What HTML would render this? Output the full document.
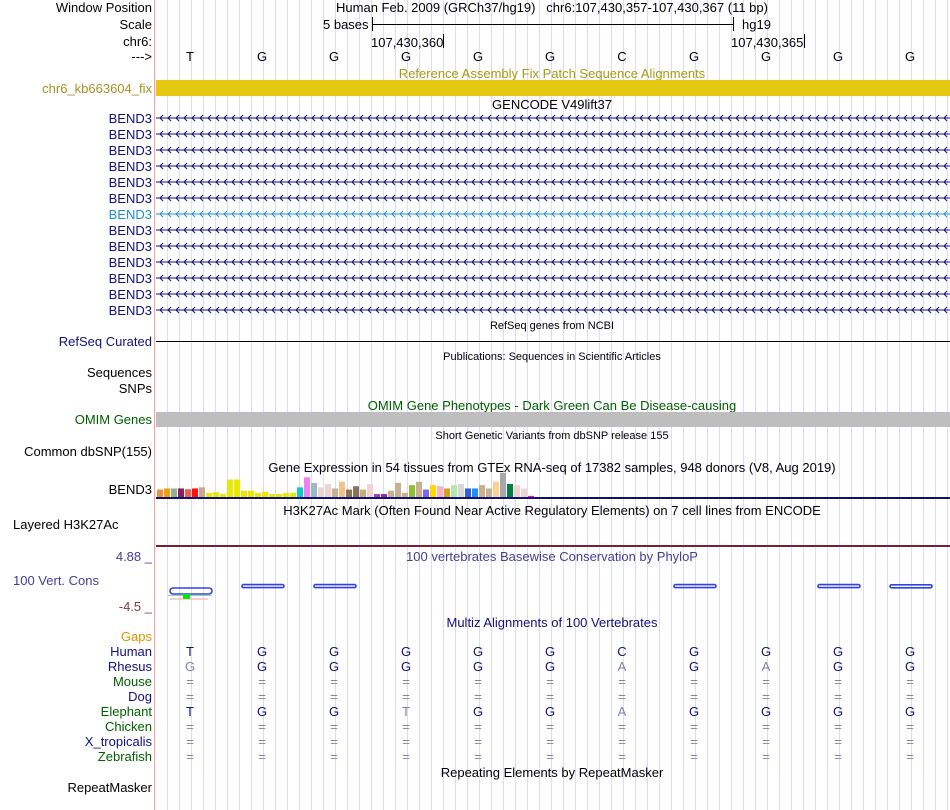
<!DOCTYPE html>
<html><head><meta charset="utf-8">
<style>
body{margin:0;background:#fff;}
#root{position:relative;width:950px;height:810px;overflow:hidden;font-family:"Liberation Sans",sans-serif;font-size:13px;color:#000;background:#fff;}
.lbl{position:absolute;right:798px;white-space:nowrap;line-height:15px;}
.t{position:absolute;white-space:nowrap;line-height:15px;}
.c{position:absolute;transform:translateX(-50%);white-space:nowrap;line-height:15px;}
.sm{font-size:11px;}
#border{position:absolute;left:154px;top:0;width:1px;height:810px;background:#f4a0a0;}
</style></head><body>
<div id="root">
<svg id="grid" style="position:absolute;left:0;top:0" width="950" height="810"></svg>
<div id="border"></div>

<div class="lbl" style="top:0">Window Position</div>
<div class="lbl" style="top:17px">Scale</div>
<div class="lbl" style="top:34px">chr6:</div>
<div class="lbl" style="top:49px">---&gt;</div>
<div class="c" style="left:552px;top:0">Human Feb. 2009 (GRCh37/hg19)&nbsp;&nbsp; chr6:107,430,357-107,430,367 (11 bp)</div>
<div class="t" style="left:323px;top:17px">5 bases</div>
<div style="position:absolute;left:372px;top:24px;width:361px;height:1px;background:#000"></div>
<div style="position:absolute;left:372px;top:17px;width:1px;height:14px;background:#000"></div>
<div style="position:absolute;left:733px;top:17px;width:1px;height:14px;background:#000"></div>
<div class="t" style="left:742px;top:17px">hg19</div>
<div class="t" style="left:371px;top:35px">107,430,360</div>
<div style="position:absolute;left:443px;top:34px;width:1px;height:14px;background:#000"></div>
<div class="t" style="left:731px;top:35px">107,430,365</div>
<div style="position:absolute;left:804px;top:34px;width:1px;height:14px;background:#000"></div>

<div class="c" style="left:552px;top:66px;color:#a89a10">Reference Assembly Fix Patch Sequence Alignments</div>
<div class="lbl" style="top:81px;color:#a89020">chr6_kb663604_fix</div>
<div style="position:absolute;left:156px;top:80px;width:794px;height:16px;background:#e6c812"></div>

<div class="c" style="left:552px;top:97px">GENCODE V49lift37</div>

<div class="c sm" style="left:552px;top:319px">RefSeq genes from NCBI</div>
<div class="lbl" style="top:334px;color:#101080">RefSeq Curated</div>
<div style="position:absolute;left:156px;top:341px;width:794px;height:1px;background:#000"></div>
<div class="c sm" style="left:552px;top:350px">Publications: Sequences in Scientific Articles</div>
<div class="lbl" style="top:365px">Sequences</div>
<div class="lbl" style="top:381px">SNPs</div>
<div class="c" style="left:552px;top:398px;color:#006000">OMIM Gene Phenotypes - Dark Green Can Be Disease-causing</div>
<div class="lbl" style="top:412px;color:#006000">OMIM Genes</div>
<div style="position:absolute;left:156px;top:412px;width:794px;height:15px;background:#bebebe"></div>
<div class="c sm" style="left:552px;top:429px">Short Genetic Variants from dbSNP release 155</div>
<div class="lbl" style="top:444px">Common dbSNP(155)</div>
<div class="c" style="left:552px;top:460px">Gene Expression in 54 tissues from GTEx RNA-seq of 17382 samples, 948 donors (V8, Aug 2019)</div>
<div class="lbl" style="top:482px">BEND3</div>
<svg id="gtex" style="position:absolute;left:0;top:0" width="950" height="810"></svg>

<div class="c" style="left:552px;top:503px">H3K27Ac Mark (Often Found Near Active Regulatory Elements) on 7 cell lines from ENCODE</div>
<div class="t" style="top:517px;left:13px">Layered H3K27Ac</div>
<div style="position:absolute;left:156px;top:545px;width:794px;height:2px;background:#7a2030"></div>
<div class="c" style="left:552px;top:549px;color:#404098">100 vertebrates Basewise Conservation by PhyloP</div>
<div class="lbl" style="top:549px;color:#404098">4.88 _</div>
<div class="t" style="left:13px;top:573px;color:#404098">100 Vert. Cons</div>
<div class="lbl" style="top:599px;color:#804040">-4.5 _</div>
<svg id="cons" style="position:absolute;left:0;top:0" width="950" height="810"></svg>

<div class="c" style="left:552px;top:615px;color:#101080">Multiz Alignments of 100 Vertebrates</div>
<div class="lbl" style="top:629px;color:#e89000">Gaps</div>
<div class="c" style="left:552px;top:765px">Repeating Elements by RepeatMasker</div>
<div class="lbl" style="top:780px">RepeatMasker</div>
</div>
<script>
const root=document.getElementById('root');
const baseX=i=>190+72*i;
const refBases=['T','G','G','G','G','G','C','G','G','G','G'];
const rhesus=['G','G','G','G','G','G','A','G','A','G','G'];
const elephant=['T','G','G','T','G','G','A','G','G','G','G'];
const species=['Human','Rhesus','Mouse','Dog','Elephant','Chicken','X_tropicalis','Zebrafish'];
const speciesColor=['#101080','#101080','#006000','#101080','#006000','#006000','#101080','#006000'];
// grid
let gl='';for(let x=167;x<950;x+=12){gl+=`<rect x="${x}" y="0" width="1" height="810" fill="#dcdcf4"/>`;}
document.getElementById('grid').innerHTML=gl;
function addDiv(cls,x,y,txt,color){const d=document.createElement('div');d.className=cls;d.style.left=x+'px';d.style.top=y+'px';if(color)d.style.color=color;d.textContent=txt;root.appendChild(d);return d;}
refBases.forEach((b,i)=>{const d=addDiv('c',baseX(i),49,b);

});
// genes
const geneRows=13;
for(let r=0;r<geneRows;r++){const y=118+16*r;const col=r===6?'#2090d0':'#101080';
const l=document.createElement('div');l.className='lbl';l.style.top=(y-7)+'px';l.style.color=col;l.textContent='BEND3';


root.appendChild(l);
const s=document.createElementNS('http://www.w3.org/2000/svg','svg');s.setAttribute('width','794');s.setAttribute('height','8');s.style.position='absolute';s.style.left='156px';s.style.top=(y-4)+'px';


let p='M0 4H794';for(let x=4;x<794;x+=8){p+=`M${x+3} 1L${x} 4L${x+3} 7`;}
s.innerHTML=`<path d="${p}" stroke="${col}" stroke-width="1" fill="none"/>`;root.appendChild(s);}
// gtex
const gtexValues=[20,23,23,23,21,23,26,11,13,8,47,47,17,17,11,14,8,8,11,11,26,53,38,26,35,23,41,20,29,20,35,8,8,17,38,11,32,41,20,32,29,23,32,35,23,23,32,23,41,65,35,32,23,3];
const gtexColors=['#f0903a','#f0a010','#8fb38f','#901a60','#f06040','#ff1010','#c8a890','#e8e800','#e8e800','#e8e800','#e8e800','#e8e800','#e8e800','#e8e800','#e8e800','#e8e800','#e8e800','#e8e800','#e8e800','#e8e800','#10c8c8','#ee82ee','#9ab8c8','#eed5d2','#eed5d2','#c8b090','#f4c08a','#8b7355','#8b7355','#cdaa7d','#eed5d2','#a040c0','#a020c0','#c8b090','#c8b090','#c8b090','#90c030','#c8b090','#7b68ee','#ffd700','#ffb0c0','#d4a020','#b0e8b0','#d8d8d8','#3060e0','#1e90ff','#c8b090','#c8b090','#ffd090','#a8a8a8','#008040','#eed5d2','#eed5d2','#ff00ff'];
const gtexMax=70,gBase=497,gH=26;const gy=v=>gBase-v/gtexMax*gH;const gx=i=>157+7*i;
let gs='';gtexValues.forEach((v,i)=>{gs+=`<rect x="${gx(i)}" y="${gy(v)}" width="6" height="${gBase-gy(v)}" fill="${gtexColors[i]}"/>`;});
gs+=`<rect x="156" y="497" width="794" height="2" fill="#101070"/>`;
document.getElementById('gtex').innerHTML=gs;
// conservation
const consStart=[0,1,2,7,9,10];const consSpan=[1,1,1,1,1,1];const consLevel=[-1.3,-0.25,-0.25,-0.25,-0.25,-0.3];
const cMax=4.88,cMin=-4.5,cTop=562,cBot=606;const cy=v=>cTop+(cMax-v)/(cMax-cMin)*(cBot-cTop);
let cs='';consStart.forEach((s,i)=>{const x0=baseX(s)-20,w=42*consSpan[i],y=cy(consLevel[i]);const h=i===0?6:3;
cs+=`<rect x="${x0}" y="${y-h/2}" width="${w}" height="${h}" rx="${h/2}" fill="none" stroke="#3040f0" stroke-width="1.6"/>`;});
const y0=cy(consLevel[0]);cs+=`<line x1="168" y1="${y0+4.5}" x2="212" y2="${y0+4.5}" stroke="#90e090"/><line x1="170" y1="${y0+8}" x2="208" y2="${y0+8}" stroke="#f0a0a0"/><rect x="183" y="${y0+3}" width="7" height="5" fill="#10e010"/>`;
document.getElementById('cons').innerHTML=cs;
// multiz
species.forEach((sp,r)=>{const y=644+15*r;
const l=document.createElement('div');l.className='lbl';l.style.top=y+'px';l.style.color=speciesColor[r];l.textContent=sp;


root.appendChild(l);
refBases.forEach((b,i)=>{let t='=',c='#8080b0';
if(r===0){t=b;c='#101080';}else if(r===1){t=rhesus[i];c=t===b?'#101080':'#8080b0';}else if(r===4){t=elephant[i];c=t===b?'#101080':'#8080b0';}
const d=addDiv('c',baseX(i),y,t,c);

});});
</script>
</body></html>
